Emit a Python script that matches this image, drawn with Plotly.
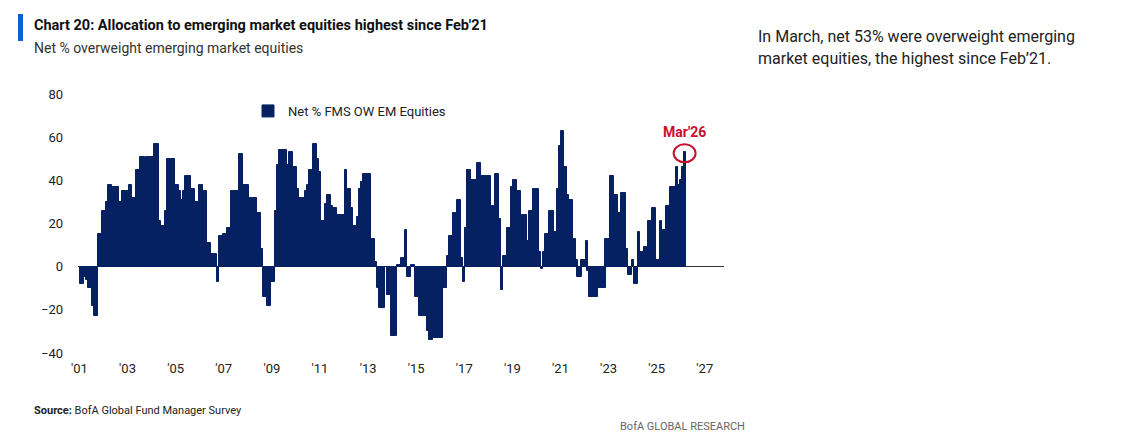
import plotly.graph_objects as go
import pandas as pd

start_month = "2001-01-01"
v2001 = [0, -8, -8, -5, -6, -10, -10, -18, -23, -23, 15, 15]
v2002 = [26, 26, 30, 38, 38, 37, 37, 37, 30, 30, 35, 35]
v2003 = [35, 38, 38, 32, 32, 45, 45, 51, 51, 46, 51, 51]
v2004 = [51, 51, 57, 57, 21, 19, 19, 26, 50, 50, 50, 50]
v2005 = [38, 38, 35, 31, 35, 42, 42, 42, 36, 36, 30, 30]
v2006 = [38, 38, 35, 35, 11, 11, 6, 6, 6, -7, 14, 14]
v2007 = [15, 15, 18, 18, 35, 35, 35, 35, 52, 52, 38, 38]
v2008 = [38, 32, 32, 32, 32, 25, 25, 8, -14, -14, -18, -18]
v2009 = [-7, -7, 26, 47, 54, 54, 54, 54, 47, 53, 53, 46]
v2010 = [46, 36, 32, 32, 32, 35, 38, 45, 45, 57, 57, 50]
v2011 = [44, 21, 21, 29, 33, 33, 28, 27, 27, 24, 24, 24]
v2012 = [24, 45, 36, 36, 27, 19, 19, 23, 36, 39, 43, 43]
v2013 = [43, 43, 13, 13, 2, -10, -19, -19, -19, 0, -13, -13]
v2014 = [-32, -32, -32, 1, 1, 4, 4, 17, -5, -5, 1, 1]
v2015 = [-14, -14, -23, -23, -23, -23, -30, -34, -34, -33, -33, -33]
v2016 = [-33, -33, -10, -10, 5, 14, 14, 25, 25, 31, 31, 4]
v2017 = [-7, 18, 45, 45, 40, 40, 40, 48, 48, 42, 42, 42]
v2018 = [42, 42, 28, 28, 43, 43, 22, -11, 5, 5, 18, 18]
v2019 = [37, 40, 40, 35, 35, 24, 24, 24, 12, 26, 26, 36]
v2020 = [36, 36, 7, -1, 7, 15, 15, 26, 26, 16, 16, 36]
v2021 = [56, 63, 46, 46, 33, 31, 31, 13, 3, -5, -5, 3]
v2022 = [3, 12, -2, -14, -14, -14, -14, -10, -10, -10, -10, 13]
v2023 = [13, 42, 42, 33, 33, 25, 25, 34, 34, 8, -4, -4]
v2024 = [3, -8, -8, 16, 7, 7, 9, 9, 21, 21, 27, 27]
v2025 = [3, 3, 21, 17, 17, 28, 28, 37, 37, 37, 46, 38]
v2026 = [40, 46, 53]

values = (v2001 + v2002 + v2003 + v2004 + v2005 + v2006 + v2007 + v2008 + v2009
          + v2010 + v2011 + v2012 + v2013 + v2014 + v2015 + v2016 + v2017 + v2018
          + v2019 + v2020 + v2021 + v2022 + v2023 + v2024 + v2025 + v2026)
dates = pd.date_range(start_month, periods=len(values), freq="MS")

tick_years = list(range(2001, 2028, 2))
tick_labels = ["'%02d" % (y % 100) for y in tick_years]
y_ticks = [-40, -20, 0, 20, 40, 60, 80]

NAVY = "#062161"
FONT = "Roboto, Arial"

L, R, T, B = 70, 716, 86, 345
W, H = 1129, 433
def px(p):
    return (p - L) / (R - L)
def py(p):
    return (B - p) / (B - T)

fig = go.Figure()
fig.add_trace(go.Bar(x=dates, y=values, marker=dict(color=NAVY, line=dict(width=1, color=NAVY)),
                     name="Net % FMS OW EM Equities", width=32 * 24 * 3600 * 1000))

fig.update_layout(
    width=W, height=H, plot_bgcolor="white", paper_bgcolor="white",
    margin=dict(l=L, r=W - R, t=T, b=H - B, autoexpand=False),
    bargap=0, showlegend=True,
    legend=dict(x=px(240), y=py(88), xanchor="left", yanchor="top", bgcolor="rgba(0,0,0,0)",
                font=dict(family=FONT, size=13, color="#222"), itemwidth=30),
    font=dict(family=FONT),
)
fig.update_xaxes(type="date", range=["2000-12-10", "2027-10-20"], automargin=False,
                 tickvals=[pd.Timestamp(f"{y}-01-01") for y in tick_years], ticktext=tick_labels,
                 showgrid=False, showline=False, zeroline=False, ticks="",
                 tickfont=dict(family=FONT, size=13, color="#222"), ticklabelstandoff=6)
fig.update_yaxes(range=[-40, 80], tickvals=y_ticks, showgrid=False, zeroline=True, automargin=False,
                 zerolinecolor="#333", zerolinewidth=1, showline=False, ticks="",
                 tickfont=dict(family=FONT, size=13, color="#222"), ticklabelstandoff=14)

fig.add_shape(type="circle", xref="x", yref="y", xsizemode="pixel", ysizemode="pixel",
              xanchor=dates[-1], yanchor=values[-1], x0=-11, x1=11, y0=-10, y1=8,
              line=dict(color="#c8102e", width=2))
fig.add_annotation(x=dates[-1], y=values[-1], xref="x", yref="y", text="<b>Mar'26</b>",
                   showarrow=False, yshift=20, font=dict(family=FONT, size=14, color="#c8102e"))

fig.add_shape(type="rect", xref="paper", yref="paper", x0=px(10), x1=px(15), y0=py(33), y1=py(6),
              fillcolor="#0b5fd7", line=dict(width=0))
def txt(x, y, s, size, color="#222", anchor="left"):
    fig.add_annotation(xref="paper", yref="paper", x=px(x), y=py(y), text=s, showarrow=False,
                       xanchor=anchor, yanchor="middle", font=dict(family=FONT, size=size, color=color))
txt(24, 17, "<b>Chart 20: Allocation to emerging market equities highest since Feb'21</b>", 14.5, "#111")
txt(24, 40, "Net % overweight emerging market equities", 14, "#333")
txt(748, 28, "In March, net 53% were overweight emerging", 16, "#222")
txt(748, 50, "market equities, the highest since Feb’21.", 16, "#222")
txt(24, 402, "<b>Source:</b> BofA Global Fund Manager Survey", 11, "#222")
txt(610, 419, "BofA GLOBAL RESEARCH", 11, "#666")

fig.write_html("out.html")
